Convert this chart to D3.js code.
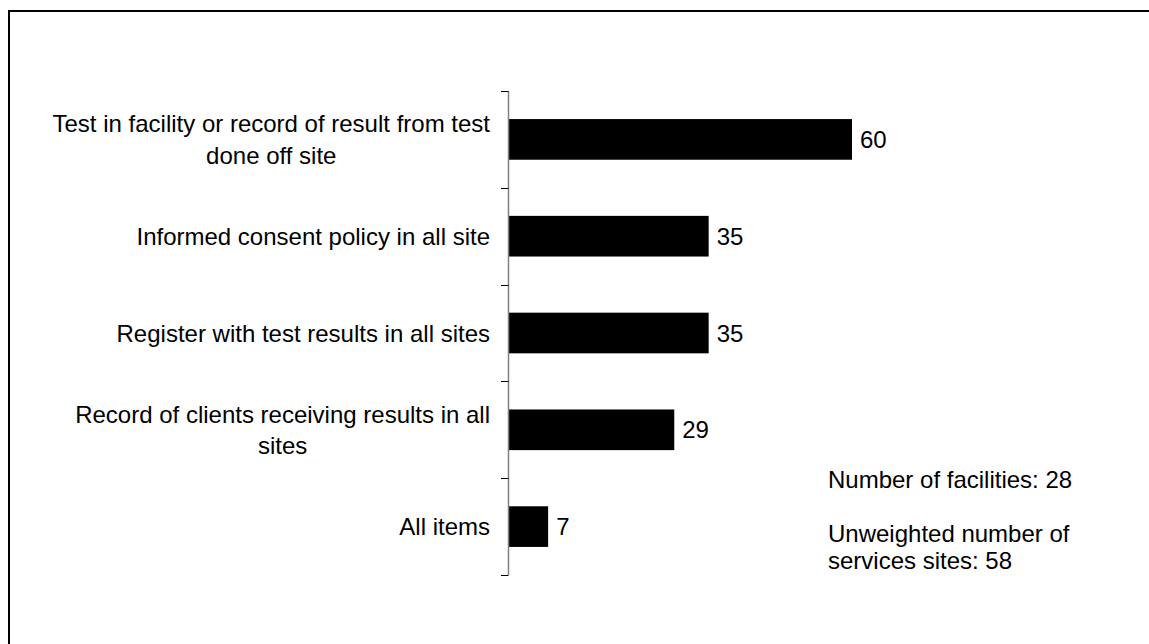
<!DOCTYPE html>
<html>
<head>
<meta charset="utf-8">
<script src="https://cdn.jsdelivr.net/npm/d3@7"></script>
<style>
  html, body { margin: 0; padding: 0; background: #fff; }
  svg { display: block; font-family: "Liberation Sans", Arial, sans-serif; }
</style>
</head>
<body>
<div id="chart"></div>
<script>
const CATEGORIES = [
    "Test in facility or record of result from test done off site",
    "Informed consent policy in all site",
    "Register with test results in all sites",
    "Record of clients receiving results in all sites",
    "All items"
];
const VALUES = [60, 35, 35, 29, 7];
const NOTES = [
    ["Number of facilities: 28"],
    ["Unweighted number of", "services sites: 58"]
];

const W = 1149, H = 644;
const AXIS_X = 508;
const LABEL_RIGHT = 490;
const PLOT = { top: 91, bottom: 575 };

const svg = d3.select("#chart").append("svg")
    .attr("width", W)
    .attr("height", H);

// outer frame (runs off the right/bottom edge in the original)
svg.append("rect")
    .attr("x", 9).attr("y", 11)
    .attr("width", W + 20).attr("height", H + 20)
    .attr("fill", "none")
    .attr("stroke", "#000")
    .attr("stroke-width", 2);

const x = d3.scaleLinear()
    .domain([0, 60])
    .range([AXIS_X, 852]);

const y = d3.scaleBand()
    .domain(CATEGORIES)
    .range([PLOT.top, PLOT.bottom])
    .paddingInner(0.58)
    .paddingOuter(0.29);

const gap = (y.step() - y.bandwidth()) / 2;

// bars
svg.append("g")
    .selectAll("rect")
    .data(CATEGORIES)
    .join("rect")
    .attr("x", x(0))
    .attr("y", d => y(d))
    .attr("width", (d, i) => x(VALUES[i]) - x(0))
    .attr("height", y.bandwidth())
    .attr("fill", "#000");

// value labels
svg.append("g")
    .selectAll("text")
    .data(CATEGORIES)
    .join("text")
    .attr("x", (d, i) => x(VALUES[i]) + 8)
    .attr("y", d => y(d) + y.bandwidth() / 2)
    .attr("dy", "0.36em")
    .attr("font-size", 24)
    .text((d, i) => VALUES[i]);

// axis line + category-boundary ticks
const axis = svg.append("g");
axis.append("line")
    .attr("x1", AXIS_X + 0.5).attr("x2", AXIS_X + 0.5)
    .attr("y1", PLOT.top).attr("y2", PLOT.bottom)
    .attr("stroke", "#808080")
    .attr("stroke-width", 1.5);

const tickYs = CATEGORIES.map(c => y(c) - gap).concat([y(CATEGORIES[CATEGORIES.length - 1]) + y.bandwidth() + gap]);
axis.selectAll("line.tick")
    .data(tickYs)
    .join("line")
    .attr("class", "tick")
    .attr("x1", AXIS_X - 7).attr("x2", AXIS_X + 0.5)
    .attr("y1", d => Math.round(d) + 0.5).attr("y2", d => Math.round(d) + 0.5)
    .attr("stroke", "#000")
    .attr("stroke-width", 1);

// category labels, wrapped; lines centred within a right-aligned block
const LINE_H = 31.5;
const labels = svg.append("g")
    .selectAll("text")
    .data(CATEGORIES)
    .join("text")
    .attr("font-size", 24);

labels.each(function (d) {
    const t = d3.select(this);
    const words = d.split(" ");
    const lines = [];
    let cur = [];
    const probe = t.append("tspan");
    const widthOf = s => { probe.text(s); return probe.node().getComputedTextLength(); };
    for (const w of words) {
        cur.push(w);
        if (widthOf(cur.join(" ")) > 450 && cur.length > 1) {
            cur.pop();
            lines.push(cur.join(" "));
            cur = [w];
        }
    }
    lines.push(cur.join(" "));
    const maxW = d3.max(lines, widthOf);
    probe.remove();
    const cx = LABEL_RIGHT - maxW / 2;
    t.attr("text-anchor", "middle");
    const cy = y(d) + y.bandwidth() / 2;
    const first = cy - (lines.length - 1) * LINE_H / 2;
    lines.forEach((ln, i) => {
        t.append("tspan")
            .attr("x", cx)
            .attr("y", first + i * LINE_H)
            .attr("dy", "0.36em")
            .text(ln);
    });
});

// notes block
const notes = svg.append("g").attr("font-size", 24);
let ny = 488;
NOTES.forEach(block => {
    block.forEach(line => {
        notes.append("text")
            .attr("x", 828)
            .attr("y", ny)
            .text(line);
        ny += 27;
    });
    ny += 27;
});
</script>
</body>
</html>
